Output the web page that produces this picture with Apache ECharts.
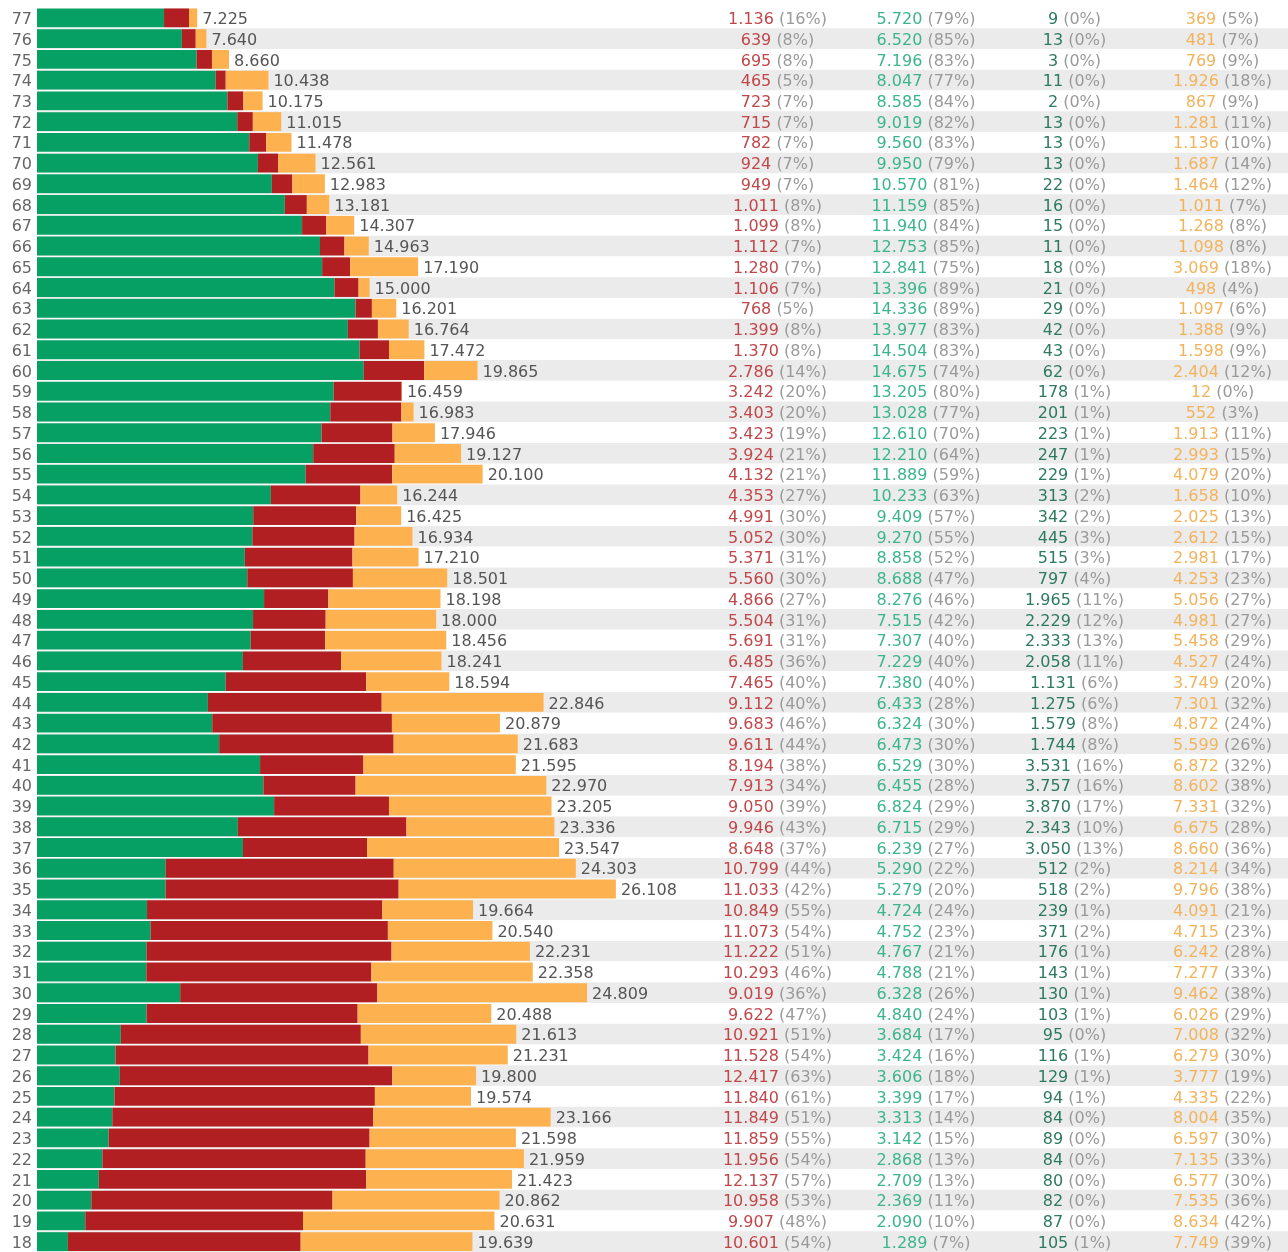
<!DOCTYPE html>
<html>
<head>
<meta charset="utf-8">
<script src="https://cdn.jsdelivr.net/npm/echarts@6/dist/echarts.min.js"></script>
<style>
html,body{margin:0;padding:0;background:#fff;}
#chart{width:1288px;height:1252px;}
</style>
</head>
<body>
<div id="chart"></div>
<script>
const ages = [77,76,75,74,73,72,71,70,69,68,67,66,65,64,63,62,61,60,59,58,57,56,55,54,53,52,51,50,49,48,47,46,45,44,43,42,41,40,39,38,37,36,35,34,33,32,31,30,29,28,27,26,25,24,23,22,21,20,19,18];
const totals = [7225,7640,8660,10438,10175,11015,11478,12561,12983,13181,14307,14963,17190,15000,16201,16764,17472,19865,16459,16983,17946,19127,20100,16244,16425,16934,17210,18501,18198,18000,18456,18241,18594,22846,20879,21683,21595,22970,23205,23336,23547,24303,26108,19664,20540,22231,22358,24809,20488,21613,21231,19800,19574,23166,21598,21959,21423,20862,20631,19639];
const redVals = [1136,639,695,465,723,715,782,924,949,1011,1099,1112,1280,1106,768,1399,1370,2786,3242,3403,3423,3924,4132,4353,4991,5052,5371,5560,4866,5504,5691,6485,7465,9112,9683,9611,8194,7913,9050,9946,8648,10799,11033,10849,11073,11222,10293,9019,9622,10921,11528,12417,11840,11849,11859,11956,12137,10958,9907,10601];
const redPct = [16,8,8,5,7,7,7,7,7,8,8,7,7,7,5,8,8,14,20,20,19,21,21,27,30,30,31,30,27,31,31,36,40,40,46,44,38,34,39,43,37,44,42,55,54,51,46,36,47,51,54,63,61,51,55,54,57,53,48,54];
const greenVals = [5720,6520,7196,8047,8585,9019,9560,9950,10570,11159,11940,12753,12841,13396,14336,13977,14504,14675,13205,13028,12610,12210,11889,10233,9409,9270,8858,8688,8276,7515,7307,7229,7380,6433,6324,6473,6529,6455,6824,6715,6239,5290,5279,4724,4752,4767,4788,6328,4840,3684,3424,3606,3399,3313,3142,2868,2709,2369,2090,1289];
const greenPct = [79,85,83,77,84,82,83,79,81,85,84,85,75,89,89,83,83,74,80,77,70,64,59,63,57,55,52,47,46,42,40,40,40,28,30,30,30,28,29,29,27,22,20,24,23,21,21,26,24,17,16,18,17,14,15,13,13,11,10,7];
const darkVals = [9,13,3,11,2,13,13,13,22,16,15,11,18,21,29,42,43,62,178,201,223,247,229,313,342,445,515,797,1965,2229,2333,2058,1131,1275,1579,1744,3531,3757,3870,2343,3050,512,518,239,371,176,143,130,103,95,116,129,94,84,89,84,80,82,87,105];
const darkPct = [0,0,0,0,0,0,0,0,0,0,0,0,0,0,0,0,0,0,1,1,1,1,1,2,2,3,3,4,11,12,13,11,6,6,8,8,16,16,17,10,13,2,2,1,2,1,1,1,1,0,1,1,1,0,0,0,0,0,0,1];
const orangeVals = [369,481,769,1926,867,1281,1136,1687,1464,1011,1268,1098,3069,498,1097,1388,1598,2404,12,552,1913,2993,4079,1658,2025,2612,2981,4253,5056,4981,5458,4527,3749,7301,4872,5599,6872,8602,7331,6675,8660,8214,9796,4091,4715,6242,7277,9462,6026,7008,6279,3777,4335,8004,6597,7135,6577,7535,8634,7749];
const orangePct = [5,7,9,18,9,11,10,14,12,7,8,8,18,4,6,9,9,12,0,3,11,15,20,10,13,15,17,23,27,27,29,24,20,32,24,26,32,38,32,28,36,34,38,21,23,28,33,38,29,32,30,19,22,35,30,33,30,36,42,39];

const FONT = 'DejaVu Sans';
function fmt(n){ return String(n).replace(/\B(?=(\d{3})+(?!\d))/g, '.'); }

const greenBar = greenVals.map((v,i)=>v + darkVals[i]);
const redBar = redVals.map((v,i)=>v - darkVals[i]);

function colAxis(center, vals, pcts, color){
  return {
    type:'category', data: ages, inverse:true, position:'left',
    offset: -(center - 37),
    axisLine:{show:false}, axisTick:{show:false}, splitLine:{show:false},
    axisLabel:{
      interval:0, margin:0, align:'center', fontFamily:FONT, fontSize:16, color:'#999',
      padding:[4,0,0,0],
      formatter:(val, idx)=>'{n|'+fmt(vals[idx])+'} {p|('+pcts[idx]+'%)}',
      rich:{
        n:{color:color, fontFamily:FONT, fontSize:16},
        p:{color:'#9a9a9a', fontFamily:FONT, fontSize:16}
      }
    }
  };
}

const chart = echarts.init(document.getElementById('chart'), null, {renderer:'canvas'});
chart.setOption({
  animation:false,
  grid:{left:37, right:0, top:7.5, bottom:0, containLabel:false},
  xAxis:{type:'value', min:0, max:56420, show:false},
  yAxis:[
    {
      type:'category', data: ages, inverse:true,
      axisLine:{show:false}, axisTick:{show:false},
      axisLabel:{interval:0, margin:5, fontFamily:FONT, fontSize:16, color:'#666',
        formatter:(v)=>'{a|'+v+'}',
        rich:{a:{fontFamily:FONT, fontSize:16, color:'#666', padding:[4,0,0,0]}}},
      splitArea:{show:true, areaStyle:{color:['#ffffff','#ebebeb']}}
    },
    colAxis(777.5, redVals, redPct, '#c0474a'),
    colAxis(926, greenVals, greenPct, '#3db58b'),
    colAxis(1074.5, darkVals, darkPct, '#2d7a5e'),
    colAxis(1222.5, orangeVals, orangePct, '#f2b35c')
  ],
  series:[
    {type:'bar', stack:'t', data: greenBar, barCategoryGap:'9%', itemStyle:{color:'#07a064'}},
    {type:'bar', stack:'t', data: redBar, itemStyle:{color:'#b21f23'}},
    {type:'bar', stack:'t', data: orangeVals, itemStyle:{color:'#fdb24f'},
     label:{show:true, position:'right', distance:5, offset:[0,2], fontFamily:FONT, fontSize:16, color:'#555',
       formatter:(p)=>fmt(totals[p.dataIndex])}}
  ]
});
</script>
</body>
</html>
